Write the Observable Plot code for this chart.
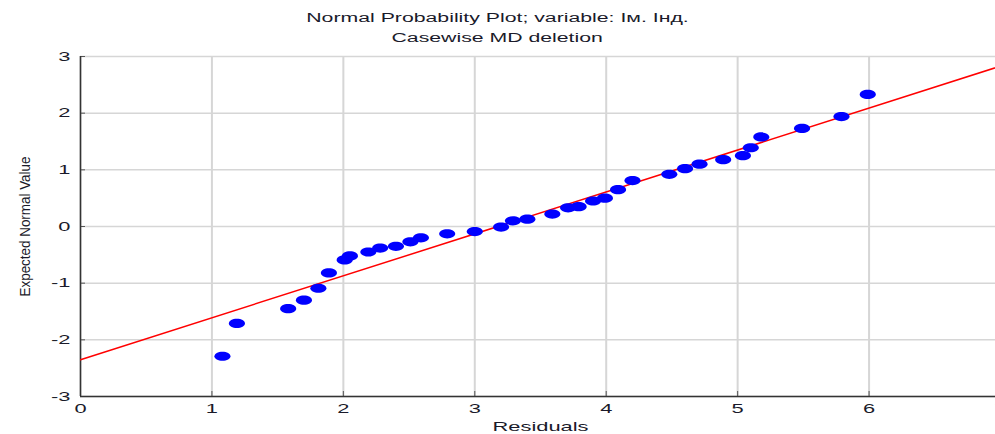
<!DOCTYPE html>
<html>
<head>
<meta charset="utf-8">
<script src="https://cdn.jsdelivr.net/npm/d3@7"></script>
<script src="https://cdn.jsdelivr.net/npm/@observablehq/plot@0.6"></script>
<style>
  html, body { margin: 0; padding: 0; background: #fff; overflow: hidden; }
  #title { width: 995px; height: 48px; box-sizing: border-box; padding-top: 8px; text-align: center;
    font-family: "Liberation Sans", Arial, sans-serif; font-size: 12.5px; line-height: 20px; color: #1a1a2a; }
  #title span { display: inline-block; transform: scaleX(1.7); transform-origin: center; }
  #chart svg { display: block; }
</style>
</head>
<body>
<div id="title"><span>Normal Probability Plot; variable: Iм. Iнд.</span><br><span>Casewise MD deletion</span></div>
<div id="chart"></div>
<script>
const residuals = [1.08, 1.19, 1.58, 1.70, 1.81, 1.89, 2.01, 2.05, 2.19, 2.28, 2.40, 2.51, 2.59, 2.79, 3.00, 3.20, 3.29, 3.40, 3.59, 3.71, 3.79, 3.90, 3.99, 4.09, 4.20, 4.48, 4.60, 4.71, 4.89, 5.04, 5.10, 5.18, 5.49, 5.79, 5.99];
const expected = [-2.29, -1.71, -1.45, -1.30, -1.09, -0.82, -0.59, -0.52, -0.45, -0.38, -0.35, -0.27, -0.20, -0.13, -0.09, -0.01, 0.10, 0.13, 0.22, 0.33, 0.35, 0.45, 0.50, 0.65, 0.81, 0.92, 1.02, 1.10, 1.18, 1.25, 1.39, 1.58, 1.73, 1.94, 2.33];
const fitX = [0, 7];
const fitY = [-2.35, 2.83];
const xTicks = [0, 1, 2, 3, 4, 5, 6, 7];
const yTicks = [-3, -2, -1, 0, 1, 2, 3];

const points = residuals.map((x, i) => ({x, y: expected[i]}));
const fit = fitX.map((x, i) => ({x, y: fitY[i]}));

// horizontally stretched dot (the original picture is widened)
const STRETCH = 1.75;
const ellipse = {
  draw(ctx, size) {
    const r = Math.sqrt(size / Math.PI), rx = r * STRETCH, ry = r, k = 0.5523;
    ctx.moveTo(rx, 0);
    ctx.bezierCurveTo(rx, k * ry, k * rx, ry, 0, ry);
    ctx.bezierCurveTo(-k * rx, ry, -rx, k * ry, -rx, 0);
    ctx.bezierCurveTo(-rx, -k * ry, -k * rx, -ry, 0, -ry);
    ctx.bezierCurveTo(k * rx, -ry, rx, -k * ry, rx, 0);
    ctx.closePath();
  }
};

const chart = Plot.plot({
  width: 995,
  height: 386,
  marginLeft: 80,
  marginRight: -5,
  marginTop: 8,
  marginBottom: 38,
  style: {fontFamily: "'Liberation Sans', Arial, sans-serif", fontSize: "12.5px", color: "#1a1a2a", background: "#fff"},
  x: {type: "linear", domain: [0, 7]},
  y: {type: "linear", domain: [-3, 3]},
  marks: [
    Plot.gridX(xTicks, {stroke: "#d6d6d6", strokeWidth: 2, strokeOpacity: 1}),
    Plot.gridY(yTicks, {stroke: "#d6d6d6", strokeWidth: 1.5, strokeOpacity: 1}),
    Plot.axisX(xTicks, {tickSize: -5, tickPadding: 13, stroke: "#555", tickFormat: d => String(d), label: "Residuals", labelAnchor: "center", labelArrow: "none", labelOffset: 34, fontSize: 12.5}),
    Plot.axisY(yTicks, {tickSize: -5, tickPadding: 15, stroke: "#555", tickFormat: d => String(d), label: "Expected Normal Value", labelAnchor: "center", labelArrow: "none", labelOffset: 62, fontSize: 12.5}),
    Plot.ruleX([0], {stroke: "#333", strokeWidth: 1.5}),
    Plot.ruleY([-3], {stroke: "#333", strokeWidth: 1.5}),
    Plot.line(fit, {x: "x", y: "y", stroke: "#ff0000", strokeWidth: 1.5, clip: true}),
    Plot.dot(points, {x: "x", y: "y", r: 4.6, symbol: ellipse, fill: "#0000ff", stroke: "none"})
  ]
});
document.getElementById("chart").appendChild(chart);

chart.querySelectorAll("text").forEach(t => {
  if (t.textContent === "Expected Normal Value") {
    // condensed rotated label
    t.setAttribute("textLength", "140");
    t.setAttribute("lengthAdjust", "spacingAndGlyphs");
    t.style.fontSize = "15.5px";
    return;
  }
  const tr = t.getAttribute("transform");
  if (tr && /rotate/.test(tr)) return;
  if (tr) {
    t.setAttribute("transform", tr + ` scale(${STRETCH},1)`);
  } else {
    const x = +(t.getAttribute("x") || 0), y = +(t.getAttribute("y") || 0);
    t.setAttribute("transform", `translate(${x},${y}) scale(${STRETCH},1) translate(${-x},${-y})`);
  }
});
</script>
</body>
</html>
